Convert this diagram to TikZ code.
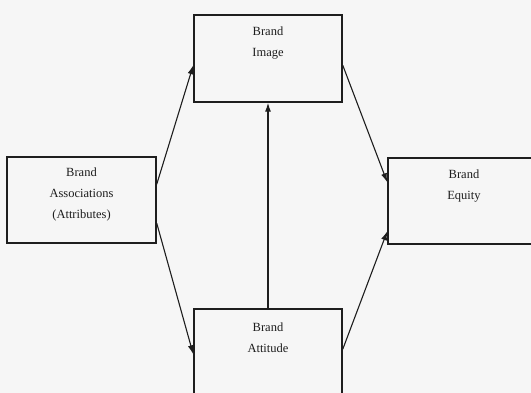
\documentclass[tikz,border=0pt]{standalone}
\usepackage{fontspec}
\setmainfont{Liberation Serif}
\usetikzlibrary{arrows.meta,calc}
\definecolor{paper}{RGB}{246,246,246}
\definecolor{ink}{RGB}{30,30,30}
\begin{document}
\begin{tikzpicture}[x=1pt,y=-1pt,
  box/.style={draw=ink,line width=1.5pt,rectangle,inner sep=0pt},
  label/.style={text=ink,font=\fontsize{12.5}{21}\selectfont,align=center,inner sep=0pt},
  link/.style={draw=ink,line width=1.1pt,-{Latex[length=9pt,width=6pt]}}]
  % page and clipping region
  \fill[paper] (0,0) rectangle (531,393);
  \useasboundingbox (0,0) rectangle (531,393);
  \clip (0,0) rectangle (531,393);

  % the four boxes
  \node[box,minimum width=149pt,minimum height=86pt] (assoc) at (81.5,200) {};
  \node[box,minimum width=148pt,minimum height=87pt] (image) at (268,58.5) {};
  \node[box,minimum width=148pt,minimum height=100pt] (attitude) at (268,359) {};
  \node[box,minimum width=152pt,minimum height=86pt] (equity) at (464,201) {};

  % box captions
  \node[label] (assocT) at (81.5,194) {Brand\\Associations\\(Attributes)};
  \node[label] (imageT) at (268,43) {Brand\\Image};
  \node[label] (attitudeT) at (268,338) {Brand\\Attitude};
  \node[label] (equityT) at (464,186) {Brand\\Equity};

  % points on the box edges where the connectors meet
  \coordinate (a1) at ($(assoc.north east)+(0,28)$);
  \coordinate (a2) at ($(assoc.north east)+(0,67)$);
  \coordinate (i1) at ($(image.north west)+(0,51)$);
  \coordinate (i2) at ($(image.north east)+(0,51)$);
  \coordinate (t1) at ($(attitude.north west)+(0,46)$);
  \coordinate (t2) at ($(attitude.north east)+(0,41)$);
  \coordinate (e1) at ($(equity.north west)+(0,25)$);
  \coordinate (e2) at ($(equity.north west)+(0,74)$);

  % connectors
  \draw[link] (a1) -- (i1);
  \draw[link] (a2) -- (t1);
  \draw[link] (attitude.north) -- (image.south);
  \draw[link] (i2) -- (e1);
  \draw[link] (t2) -- (e2);
\end{tikzpicture}
\end{document}
